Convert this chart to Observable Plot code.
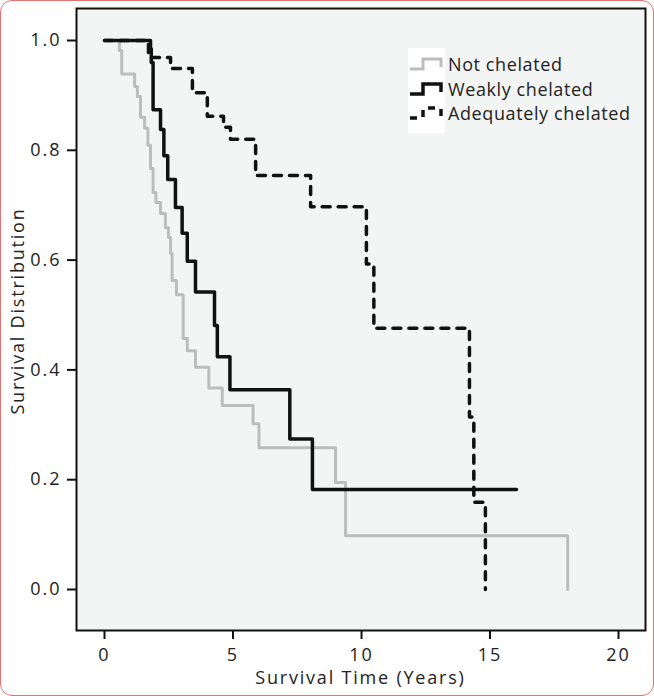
<!DOCTYPE html>
<html>
<head>
<meta charset="utf-8">
<script src="https://cdn.jsdelivr.net/npm/d3@7"></script>
<script src="https://cdn.jsdelivr.net/npm/@observablehq/plot@0.6"></script>
<style>
  html, body { margin: 0; padding: 0; background: #fff; }
  #wrap { position: relative; width: 654px; height: 696px; overflow: hidden; font-family: "Open Sans", sans-serif; color: #222; }
  #border { position: absolute; left: 0; top: 0; width: 654px; height: 696px; box-sizing: border-box;
            border: 1.5px solid #e07474; border-radius: 12px; pointer-events: none; }
  #chart { position: absolute; left: 0; top: 0; }
  #chart svg text { font-size: 18px !important; letter-spacing: 2px !important; fill: #222; }
  #legendBox { position: absolute; left: 408px; top: 48px; width: 37px; height: 85px; background: #fff; }
  .lg { position: absolute; left: 448px; font-size: 18px; letter-spacing: 0.6px; line-height: 22px; white-space: nowrap; }
  #xlab { position: absolute; left: 76px; width: 569px; top: 665px; text-align: center; font-size: 18px; line-height: 24px; letter-spacing: 1.8px; }
  #ylab { position: absolute; left: -183px; width: 400px; top: 299px; text-align: center; font-size: 18px; line-height: 24px; letter-spacing: 1.8px; transform: rotate(-90deg); }
</style>
</head>
<body>
<div id="wrap">
  <div id="chart"></div>
  <div id="legendBox"></div>
  <div id="xlab"></div>
  <div id="ylab"></div>
  <div id="border"></div>
</div>
<script>
// ---- data ----
const seriesNames = ["Not chelated", "Weakly chelated", "Adequately chelated"];

const notTime = [0, 0.58, 0.67, 1.17, 1.28, 1.40, 1.56, 1.69, 1.79, 1.89, 2.00, 2.18, 2.37, 2.49, 2.57, 2.63, 2.80, 3.06, 3.22, 3.54, 4.06, 4.58, 5.78, 6.01, 8.99, 9.38, 18.02];
const notSurv = [1.0, 0.982, 0.939, 0.916, 0.898, 0.860, 0.840, 0.809, 0.767, 0.723, 0.705, 0.685, 0.659, 0.641, 0.612, 0.563, 0.537, 0.457, 0.435, 0.405, 0.367, 0.335, 0.302, 0.258, 0.195, 0.098, 0.0];

const weakTime = [0, 1.79, 1.82, 1.89, 2.18, 2.31, 2.46, 2.76, 3.02, 3.22, 3.54, 4.28, 4.39, 4.88, 7.21, 8.09, 16.03];
const weakSurv = [1.0, 0.985, 0.960, 0.874, 0.838, 0.790, 0.747, 0.696, 0.649, 0.598, 0.542, 0.481, 0.424, 0.364, 0.274, 0.182, 0.182];

const adeqTime = [0, 1.71, 2.57, 3.42, 4.0, 4.63, 4.9, 5.88, 8.02, 10.19, 10.48, 14.2, 14.37, 14.82];
const adeqSurv = [1.0, 0.969, 0.949, 0.905, 0.862, 0.842, 0.820, 0.754, 0.697, 0.593, 0.476, 0.314, 0.159, 0.0];

const xTicks = [0, 5, 10, 15, 20];
const yTicks = [0, 0.2, 0.4, 0.6, 0.8, 1.0];
const xLabel = "Survival Time (Years)";
const yLabel = "Survival Distribution";

const toRows = (ts, ss) => ts.map((t, i) => ({t, s: ss[i]}));
const notData = toRows(notTime, notSurv);
const weakData = toRows(weakTime, weakSurv);
const adeqData = toRows(adeqTime, adeqSurv);

const grayC = "#bdbdbd", blackC = "#111";

const chart = Plot.plot({
  width: 654,
  height: 696,
  marginLeft: 76,
  marginRight: 9,
  marginTop: 8,
  marginBottom: 66,
  x: {domain: [-1.09, 21.05]},
  y: {domain: [-0.0747, 1.0583]},
  style: {fontFamily: "Open Sans, sans-serif", fontSize: "18px", color: "#222", background: "transparent", overflow: "visible"},
  marks: [
    Plot.frame({fill: "#f3f4f4", stroke: null}),
    Plot.line(notData, {x: "t", y: "s", curve: "step-after", stroke: grayC, strokeWidth: 3}),
    Plot.line(weakData, {x: "t", y: "s", curve: "step-after", stroke: blackC, strokeWidth: 3.5}),
    Plot.line(adeqData, {x: "t", y: "s", curve: "step-after", stroke: blackC, strokeWidth: 3.5, strokeDasharray: "8,8"}),
    Plot.axisX({ticks: xTicks, tickSize: 9, tickPadding: 9, strokeWidth: 2, stroke: blackC, label: null, fontSize: 18}),
    Plot.axisY({ticks: yTicks, tickFormat: d3.format(".1f"), tickSize: 9, tickPadding: 6, strokeWidth: 2, stroke: blackC, label: null, fontSize: 18}),
    Plot.frame({stroke: blackC, strokeWidth: 2})
  ]
});
document.getElementById("chart").appendChild(chart);
document.getElementById("xlab").textContent = xLabel;
document.getElementById("ylab").textContent = yLabel;

// legend (overlay)
const box = document.getElementById("legendBox");
const ns = "http://www.w3.org/2000/svg";
const svg = document.createElementNS(ns, "svg");
svg.setAttribute("width", 37); svg.setAttribute("height", 85);
svg.style.position = "absolute"; svg.style.left = "0"; svg.style.top = "0";
const rowsY = [16, 41, 65];
const styles = [
  {stroke: grayC, w: 3, dash: null},
  {stroke: blackC, w: 3.5, dash: null},
  {stroke: blackC, w: 3.5, dash: "7,7"}
];
rowsY.forEach((c, i) => {
  const p = document.createElementNS(ns, "path");
  p.setAttribute("d", `M2,${c + 5}H15V${c - 5}H33V${c + 3}`);
  p.setAttribute("fill", "none");
  p.setAttribute("stroke", styles[i].stroke);
  p.setAttribute("stroke-width", styles[i].w);
  if (styles[i].dash) p.setAttribute("stroke-dasharray", styles[i].dash);
  svg.appendChild(p);
  const d = document.createElement("div");
  d.className = "lg";
  d.style.top = (48 + c - 11) + "px";
  d.textContent = seriesNames[i];
  document.getElementById("wrap").appendChild(d);
});
box.appendChild(svg);
</script>
</body>
</html>
